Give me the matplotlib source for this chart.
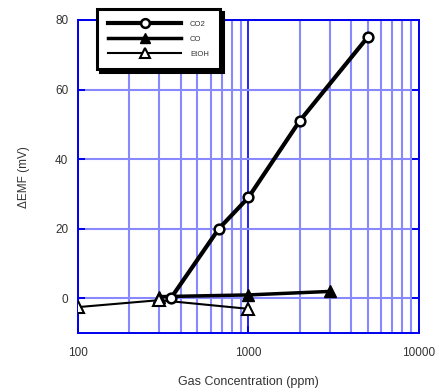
import numpy as np
import matplotlib
matplotlib.use('Agg')
import matplotlib.pyplot as plt
from matplotlib.ticker import LogLocator, NullFormatter, FixedLocator

plt.rcParams['font.family'] = ['Liberation Sans', 'DejaVu Sans']

# ============================================================
# DATA
# ============================================================
co2_x = [350, 670, 1000, 2000, 5000]
co2_y = [0, 20, 29, 51, 75]
co_x = [300, 1000, 3000]
co_y = [0.5, 1, 2]
etoh_x = [100, 300, 1000]
etoh_y = [-2.5, -0.5, -3]

x_ticks = [100, 1000, 10000]
y_ticks = [0, 20, 40, 60, 80]

BLUE = '#0000ee'
LIGHT = '#8888ff'
TXT = '#333333'

fig = plt.figure(figsize=(4.46, 3.92), dpi=100)
ax = fig.add_axes([0.175, 0.150, 0.764, 0.799])

ax.set_xscale('log')
ax.set_xlim(100, 10000)
ax.set_ylim(-10, 80)

# grid
ax.xaxis.set_major_locator(FixedLocator(x_ticks))
ax.xaxis.set_minor_locator(LogLocator(base=10, subs=np.arange(2, 10)))
ax.xaxis.set_minor_formatter(NullFormatter())
ax.set_xticklabels([str(v) for v in x_ticks])
ax.set_yticks(y_ticks)
ax.grid(True, which='minor', axis='x', color=LIGHT, linewidth=1.5)
ax.grid(True, which='major', axis='x', color=BLUE, linewidth=1.2)
ax.grid(True, which='major', axis='y', color=LIGHT, linewidth=1.5)
ax.set_axisbelow(True)

for s in ax.spines.values():
    s.set_color(BLUE)
    s.set_linewidth(1.4)

ax.tick_params(axis='both', which='major', direction='in', color=BLUE,
               labelcolor=TXT, labelsize=8.5, length=5, width=1.4,
               right=True, top=False)
ax.tick_params(axis='x', which='minor', length=0)
ax.tick_params(axis='x', which='major', pad=10)
ax.tick_params(axis='y', which='major', pad=7)

ax.plot(co2_x, co2_y, color='k', linewidth=3, marker='o', markersize=7,
        markerfacecolor='white', markeredgecolor='k', markeredgewidth=1.8,
        label='CO2', zorder=4)
ax.plot(co_x, co_y, color='k', linewidth=2.5, marker='^', markersize=8,
        markerfacecolor='k', markeredgecolor='k', label='CO', zorder=3)
ax.plot(etoh_x, etoh_y, color='k', linewidth=1.5, marker='^', markersize=8,
        markerfacecolor='white', markeredgecolor='k', markeredgewidth=1.5,
        label='EtOH', zorder=3)

ax.set_xlabel('Gas Concentration (ppm)', fontsize=9, color=TXT, labelpad=12)
ax.set_ylabel('\u0394EMF (mV)', fontsize=8.5, color=TXT, labelpad=18)

leg = ax.legend(loc='upper left', bbox_to_anchor=(0.055, 1.035), fontsize=5.5,
                handlelength=9.5, fancybox=False, framealpha=1, markerscale=0.9,
                shadow={'color': 'k', 'alpha': 1}, borderpad=1.5,
                labelspacing=1.0, handletextpad=1.2, borderaxespad=0)
leg.get_frame().set_edgecolor('k')
leg.get_frame().set_linewidth(2.2)
for t in leg.get_texts():
    t.set_color(TXT)

fig.savefig('out.png', dpi=100)
